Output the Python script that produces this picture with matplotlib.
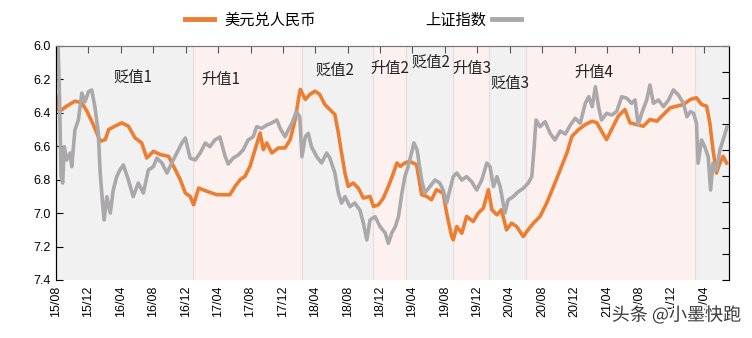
import matplotlib
matplotlib.use('Agg')
import matplotlib.pyplot as plt
import matplotlib.dates as mdates
from matplotlib.ticker import MultipleLocator
import matplotlib.patheffects as pe
import pandas as pd

plt.rcParams['font.family'] = ['Liberation Sans', 'Noto Sans CJK SC', 'DejaVu Sans']

# ── Data ──────────────────────────────────────────────────────
usd_dates = [
    "2015-08-01", "2015-08-10", "2015-08-15", "2015-09-10", "2015-10-11", "2015-11-06",
    "2015-11-25", "2015-12-19", "2016-01-14", "2016-02-02", "2016-02-15", "2016-03-09",
    "2016-04-04", "2016-04-29", "2016-05-24", "2016-06-18", "2016-07-07", "2016-08-01",
    "2016-08-27", "2016-09-27", "2016-10-22", "2016-11-10", "2016-11-29", "2016-12-17",
    "2016-12-30", "2017-01-18", "2017-02-19", "2017-03-27", "2017-05-03", "2017-05-15",
    "2017-06-04", "2017-06-23", "2017-07-11", "2017-07-30", "2017-08-18", "2017-09-06",
    "2017-09-18", "2017-10-01", "2017-10-20", "2017-11-14", "2017-12-09", "2017-12-28",
    "2018-01-16", "2018-01-29", "2018-02-04", "2018-02-23", "2018-03-12", "2018-03-31",
    "2018-04-18", "2018-05-07", "2018-05-26", "2018-06-14", "2018-06-27", "2018-07-09",
    "2018-07-22", "2018-08-03", "2018-08-22", "2018-09-10", "2018-09-29", "2018-10-24",
    "2018-11-06", "2018-11-25", "2018-12-13", "2019-01-01", "2019-01-20", "2019-02-02",
    "2019-02-15", "2019-03-04", "2019-03-22", "2019-04-17", "2019-05-06", "2019-05-25",
    "2019-06-12", "2019-07-01", "2019-07-26", "2019-08-08", "2019-08-27", "2019-09-02",
    "2019-09-15", "2019-10-04", "2019-10-22", "2019-11-16", "2019-12-05", "2019-12-24",
    "2020-01-12", "2020-01-25", "2020-02-13", "2020-03-01", "2020-03-20", "2020-04-08",
    "2020-04-27", "2020-05-22", "2020-06-04", "2020-06-29", "2020-07-24", "2020-08-18",
    "2020-09-13", "2020-10-08", "2020-11-02", "2020-11-21", "2020-12-16", "2021-01-10",
    "2021-02-05", "2021-02-23", "2021-03-12", "2021-03-31", "2021-04-19", "2021-05-14",
    "2021-06-08", "2021-06-27", "2021-07-22", "2021-08-16", "2021-09-10", "2021-10-06",
    "2021-10-31", "2021-11-25", "2021-12-20", "2022-01-14", "2022-02-09", "2022-03-04",
    "2022-03-23", "2022-04-11", "2022-04-23", "2022-05-05", "2022-05-18", "2022-05-31",
    "2022-06-12", "2022-06-25",
]
usd_cny = [
    6.30, 6.38, 6.39, 6.36, 6.33, 6.34,
    6.39, 6.47, 6.57, 6.56, 6.50, 6.48,
    6.46, 6.48, 6.55, 6.58, 6.67, 6.63,
    6.65, 6.66, 6.74, 6.80, 6.88, 6.90,
    6.95, 6.85, 6.87, 6.89, 6.89, 6.89,
    6.84, 6.80, 6.78, 6.72, 6.62, 6.52,
    6.62, 6.58, 6.64, 6.61, 6.61, 6.56,
    6.44, 6.31, 6.26, 6.32, 6.29, 6.27,
    6.29, 6.35, 6.38, 6.41, 6.52, 6.64,
    6.76, 6.84, 6.82, 6.85, 6.91, 6.90,
    6.96, 6.95, 6.91, 6.84, 6.76, 6.70,
    6.72, 6.70, 6.69, 6.71, 6.89, 6.90,
    6.92, 6.86, 6.88, 7.00, 7.14, 7.16,
    7.08, 7.12, 7.02, 7.05, 7.00, 6.97,
    6.86, 6.98, 7.01, 6.98, 7.10, 7.06,
    7.08, 7.14, 7.11, 7.06, 7.02, 6.94,
    6.84, 6.74, 6.64, 6.54, 6.50, 6.47,
    6.45, 6.46, 6.51, 6.56, 6.50, 6.42,
    6.38, 6.46, 6.47, 6.48, 6.44, 6.45,
    6.41, 6.37, 6.36, 6.35, 6.32, 6.31,
    6.35, 6.36, 6.46, 6.62, 6.76, 6.70,
    6.66, 6.70,
]

sh_dates = [
    "2015-08-01", "2015-08-08", "2015-08-13", "2015-08-20", "2015-08-26", "2015-09-01",
    "2015-09-10", "2015-09-23", "2015-09-29", "2015-10-11", "2015-10-24", "2015-11-06",
    "2015-11-18", "2015-12-01", "2015-12-13", "2015-12-25", "2016-01-07", "2016-01-14",
    "2016-01-24", "2016-01-29", "2016-02-08", "2016-02-21", "2016-03-03", "2016-03-16",
    "2016-03-28", "2016-04-10", "2016-04-29", "2016-05-17", "2016-06-05", "2016-06-24",
    "2016-07-13", "2016-08-01", "2016-08-14", "2016-09-02", "2016-09-21", "2016-10-09",
    "2016-10-28", "2016-11-16", "2016-11-29", "2016-12-17", "2017-01-05", "2017-01-24",
    "2017-02-12", "2017-03-01", "2017-03-20", "2017-04-08", "2017-04-27", "2017-05-09",
    "2017-05-28", "2017-06-16", "2017-07-04", "2017-07-23", "2017-08-11", "2017-08-24",
    "2017-09-12", "2017-10-01", "2017-10-20", "2017-11-08", "2017-11-20", "2017-12-09",
    "2017-12-21", "2018-01-04", "2018-01-20", "2018-02-02", "2018-02-10", "2018-02-23",
    "2018-03-06", "2018-03-18", "2018-04-07", "2018-04-25", "2018-05-14", "2018-05-26",
    "2018-06-14", "2018-06-27", "2018-07-09", "2018-07-22", "2018-08-10", "2018-08-28",
    "2018-09-16", "2018-09-29", "2018-10-12", "2018-10-24", "2018-11-12", "2018-12-01",
    "2018-12-20", "2019-01-01", "2019-01-14", "2019-01-27", "2019-02-08", "2019-02-21",
    "2019-03-04", "2019-03-16", "2019-03-29", "2019-04-07", "2019-04-19", "2019-05-06",
    "2019-05-18", "2019-06-06", "2019-06-25", "2019-07-13", "2019-07-26", "2019-08-08",
    "2019-08-20", "2019-09-02", "2019-09-15", "2019-10-04", "2019-10-22", "2019-11-10",
    "2019-11-29", "2019-12-18", "2020-01-06", "2020-01-18", "2020-01-31", "2020-02-13",
    "2020-02-25", "2020-03-14", "2020-03-26", "2020-04-14", "2020-05-03", "2020-05-22",
    "2020-06-10", "2020-06-23", "2020-07-01", "2020-07-09", "2020-07-24", "2020-08-12",
    "2020-08-31", "2020-09-18", "2020-10-08", "2020-10-27", "2020-11-15", "2020-12-03",
    "2020-12-22", "2021-01-10", "2021-01-23", "2021-02-05", "2021-02-17", "2021-03-01",
    "2021-03-12", "2021-03-31", "2021-04-19", "2021-05-08", "2021-05-27", "2021-06-15",
    "2021-07-03", "2021-07-16", "2021-07-28", "2021-08-10", "2021-08-29", "2021-09-10",
    "2021-09-23", "2021-10-12", "2021-10-31", "2021-11-19", "2021-12-07", "2021-12-26",
    "2022-01-14", "2022-01-27", "2022-02-09", "2022-02-21", "2022-03-04", "2022-03-10",
    "2022-03-23", "2022-04-04", "2022-04-17", "2022-04-26", "2022-05-05", "2022-05-18",
    "2022-05-31", "2022-06-12", "2022-06-27",
]
sh_index = [
    4080, 4050, 3700, 3000, 2946, 3225,
    3123, 3177, 3072, 3354, 3431, 3638,
    3572, 3648, 3662, 3533, 3331, 3023,
    2764, 2662, 2841, 2715, 2892, 2995,
    3046, 3085, 2969, 2841, 2946, 2869,
    3046, 3072, 3138, 3100, 3023, 3100,
    3177, 3254, 3292, 3138, 3123, 3177,
    3254, 3225, 3277, 3300, 3154, 3092,
    3138, 3162, 3200, 3277, 3302, 3379,
    3367, 3392, 3408, 3431, 3367, 3302,
    3354, 3408, 3495, 3456, 3148, 3302,
    3328, 3225, 3148, 3100, 3177, 3138,
    3023, 2869, 2792, 2841, 2764, 2792,
    2738, 2638, 2508, 2662, 2687, 2610,
    2562, 2482, 2562, 2610, 2687, 2869,
    2995, 3072, 3177, 3254, 3200, 2969,
    2869, 2918, 2969, 2946, 2892, 2792,
    2892, 2995, 3023, 2969, 2995, 2956,
    2892, 2969, 3100, 3072, 2918, 2995,
    2918, 2715, 2815, 2841, 2879, 2905,
    2946, 2995, 3200, 3431, 3379, 3418,
    3328, 3277, 3346, 3323, 3392, 3444,
    3405, 3559, 3610, 3533, 3687, 3533,
    3431, 3482, 3469, 3495, 3610, 3598,
    3559, 3585, 3392, 3482, 3585, 3700,
    3559, 3585, 3533, 3585, 3662, 3623,
    3559, 3456, 3495, 3482, 3405, 3098,
    3277, 3225, 3148, 2892, 3098, 3046,
    3200, 3277, 3379,
]

# phases: start, end, label, kind
phase_starts = ["2015-08-01", "2016-12-28", "2018-02-12", "2018-11-05", "2019-03-07",
                "2019-09-01", "2020-01-15", "2020-06-01", "2022-02-28"]
phase_ends = ["2016-12-28", "2018-02-12", "2018-11-05", "2019-03-07", "2019-09-01",
              "2020-01-15", "2020-06-01", "2022-02-28", "2022-07-03"]
phase_kinds = ["down", "up", "down", "up", "down", "up", "down", "up", "down"]

phase_labels = ["贬值1", "升值1", "贬值2", "升值2", "贬值2", "升值3", "贬值3", "升值4"]
label_dates = ["2016-05-16", "2017-04-12", "2018-06-14", "2019-01-08",
               "2019-06-10", "2019-11-12", "2020-04-02", "2021-02-10"]
label_levels = [6.185, 6.203, 6.144, 6.132, 6.096, 6.132, 6.221, 6.156]

ORANGE = '#ED7D31'
GREY = '#AAA8AA'
SHADE = {'down': '#f1f1f1', 'up': '#fdf1f0'}

fig = plt.figure(figsize=(7.52, 3.38), dpi=100)
ax = fig.add_axes([0.0745, 0.1716, 0.8945, 0.6924])
ax2 = ax.twinx()

for s, e, k in zip(phase_starts, phase_ends, phase_kinds):
    ax.axvspan(pd.Timestamp(s), pd.Timestamp(e), color=SHADE[k], lw=0, zorder=0)
for s in phase_starts[1:]:
    ax.axvline(pd.Timestamp(s), color='#e8dcdc', lw=0.8, zorder=0.5)

l1, = ax.plot(pd.to_datetime(usd_dates), usd_cny, color=ORANGE, lw=2.6, zorder=2)
l2, = ax2.plot(pd.to_datetime(sh_dates), sh_index, color=GREY, lw=2.6, zorder=2)

for lab, d, lv in zip(phase_labels, label_dates, label_levels):
    ax.text(pd.Timestamp(d), lv, lab, ha='center', va='center', fontsize=11,
            family=['Noto Sans CJK SC'], color='#222222', zorder=3)

# axes
ax.set_ylim(7.4, 6.0)
ax.yaxis.set_major_locator(MultipleLocator(0.2))
ax.yaxis.set_major_formatter(matplotlib.ticker.FormatStrFormatter('%.1f'))
ax.set_xlim(pd.Timestamp("2015-08-01"), pd.Timestamp("2022-07-03"))
ax.xaxis.set_major_locator(mdates.MonthLocator(bymonth=[4, 8, 12]))
ax.xaxis.set_major_formatter(mdates.DateFormatter('%y/%m'))
ax.tick_params(axis='x', bottom=False, top=True, direction='in', length=5,
               labelbottom=True, labeltop=False, labelsize=9, rotation=90, pad=4,
               color='#555555')
ax.tick_params(axis='y', direction='in', length=5, labelsize=9, pad=4)

ax2.set_ylim(2200, 4000)
ax2.yaxis.set_major_locator(MultipleLocator(200))
ax2.tick_params(axis='y', direction='in', length=5, labelright=False)

for a in (ax, ax2):
    a.spines['bottom'].set_visible(False)
    a.spines['top'].set_color('#777777')
    a.spines['left'].set_color('black')
    a.spines['right'].set_color('black')
ax.patch.set_visible(True)

leg1 = fig.legend([l1], ['美元兑人民币'], loc='center', bbox_to_anchor=(0.333, 0.94),
                  frameon=False, fontsize=11, handlelength=1.9, handletextpad=0.7,
                  prop={'family': ['Noto Sans CJK SC'], 'size': 11})
for h in leg1.get_lines():
    h.set_linewidth(3.5)
leg2 = fig.legend([l2], ['上证指数'], loc='center', bbox_to_anchor=(0.629, 0.94),
                  frameon=False, handlelength=1.9, handletextpad=0.4, markerfirst=False,
                  prop={'family': ['Noto Sans CJK SC'], 'size': 11})
for h in leg2.get_lines():
    h.set_linewidth(3.5)

fig.text(0.985, 0.04, '头条 @小墨快跑', ha='right', va='bottom', fontsize=13,
         family=['Noto Sans CJK SC'], color='#3a3a3a',
         path_effects=[pe.withStroke(linewidth=2.5, foreground='white')])

plt.savefig('out.png', dpi=100)
plt.close(fig)
